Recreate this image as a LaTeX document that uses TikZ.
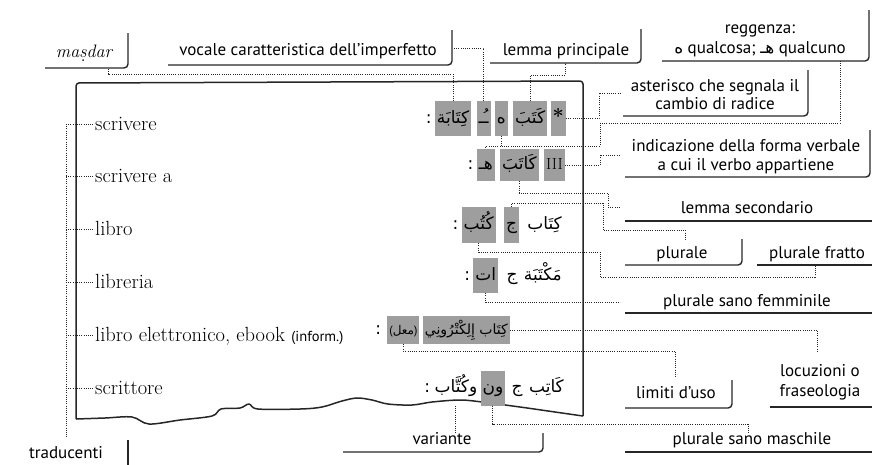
\documentclass[tikz,border=0pt]{standalone}
\usepackage{fontspec}
\newfontfamily\lblfont{PT Sans}
\newfontfamily\arfont[Script=Arabic]{DejaVu Sans}
\TeXXeTstate=1
\newcommand\ar[1]{{\arfont\beginR #1\endR}}
\newcommand\sdotbelow{\ooalign{s\cr\hidewidth\raisebox{-0.62ex}{.}\hidewidth\cr}}
\begin{document}
\begin{tikzpicture}[x=1pt,y=-1pt,
  lbl/.style={font=\lblfont\fontsize{17}{20}\selectfont, inner sep=0pt, anchor=base},
  frm/.style={line width=1.4pt, draw=black!85, rounded corners=4pt},
  dots/.style={line width=1pt, dash pattern=on 0.9pt off 1.3pt, draw=black!85},
  arbase/.style={inner xsep=2pt, inner ysep=0pt, text height=15pt, text depth=6pt, font=\arfont\fontsize{17}{20}\selectfont, anchor=east},
  hl/.style={arbase, fill=black!38},
  arw/.style={arbase},
  itw/.style={font=\fontsize{20.5}{23}\selectfont, anchor=base west, inner sep=0pt},
  boxline/.style={line width=1.5pt, draw=black!85, line join=round},
]
\useasboundingbox (0,0) rectangle (872,464);

% main box
\draw[boxline, rounded corners=3pt] (583,416) -- (583,81) -- (76,83) -- (76,419);
\draw[boxline] plot[smooth, tension=0.55] coordinates {(76,419) (105,418) (132,417) (149,424) (180,420) (212,416) (221,409) (240,408) (249,404) (258,409) (300,409) (322,407) (342,401) (357,398) (372,400) (388,404) (412,405) (432,402) (460,400) (482,402) (520,407) (555,412) (583,416)};

% Italian translations
\node[itw] (it1) at (95,130) {scrivere};
\node[itw] (it2) at (95,182) {scrivere a};
\node[itw] (it3) at (95,235) {libro};
\node[itw] (it4) at (95,288) {libreria};
\node[itw] (it5) at (95,341) {libro elettronico, ebook};
\node[itw, font=\lblfont\fontsize{14.5}{16}\selectfont] (inf) at ([xshift=6pt]it5.base east) {(inform.)};
\node[itw] (it6) at (95,394) {scrittore};
\coordinate (trT) at (66,124);
\coordinate (trB) at (66,437);
\draw[dots] (trT) -- (trB);
\foreach \n in {it1,it2,it3,it4,it5,it6}
  \draw[dots] ([yshift=5.5pt]\n.base west -| trT) -- ([xshift=-1pt,yshift=5.5pt]\n.base west);

% Row 1
\node[hl, minimum height=35pt, font=\rmfamily\bfseries\fontsize{20}{20}\selectfont] (r1s) at (566,118.5) {*};
\node[hl, minimum height=35pt] (r1a) at ([xshift=-3pt]r1s.west) {\ar{كَتَبَ}};
\node[hl, minimum height=35pt] (r1b) at ([xshift=-5pt]r1a.west) {\ar{ه}};
\node[hl, minimum height=35pt] (r1c) at ([xshift=-4pt]r1b.west) {\ar{ـُـ}};
\node[hl, minimum height=35pt] (r1d) at ([xshift=-5pt]r1c.west) {\ar{كِتَابَة}};
\node[arw, minimum height=35pt] (r1e) at ([xshift=-1pt]r1d.west) {:};
% Row 2
\node[hl, minimum height=32pt, font=\rmfamily\fontsize{16}{16}\selectfont] (r2s) at (565,165) {III};
\node[hl, minimum height=32pt] (r2a) at ([xshift=-5pt]r2s.west) {\ar{كَاتَبَ}};
\node[hl, minimum height=32pt] (r2b) at ([xshift=-5pt]r2a.west) {\ar{هـ}};
\node[arw, minimum height=32pt] (r2e) at ([xshift=-1pt]r2b.west) {:};
% Row 3
\node[arw, minimum height=36pt] (r3a) at (564,225) {\ar{كِتَاب}};
\node[hl, minimum height=36pt] (r3b) at ([xshift=-6pt]r3a.west) {\ar{ج}};
\node[hl, minimum height=36pt] (r3c) at ([xshift=-8pt]r3b.west) {\ar{كُتُب}};
\node[arw, minimum height=36pt] (r3e) at ([xshift=-1pt]r3c.west) {:};
% Row 4
\node[arw, minimum height=35pt] (r4a) at (564,275.5) {\ar{مَكْتَبَة}};
\node[arw, minimum height=35pt] (r4b) at ([xshift=-2pt]r4a.west) {\ar{ج}};
\node[hl, minimum height=35pt] (r4c) at ([xshift=-6pt]r4b.west) {\ar{ات}};
\node[arw, minimum height=35pt] (r4e) at ([xshift=-1pt]r4c.west) {:};
% Row 5
\node[hl, minimum height=28pt, font=\arfont\fontsize{14}{16}\selectfont] (r5a) at (510,330) {\ar{كِتَاب إِلِكْتْرُونِي}};
\node[hl, minimum height=28pt, font=\arfont\fontsize{12}{14}\selectfont] (r5b) at ([xshift=-3pt]r5a.west) {{\lblfont(}\ar{معل}{\lblfont)}};
\node[arw, minimum height=28pt] (r5e) at ([xshift=-4pt]r5b.west) {:};
% Row 6
\node[arw, minimum height=35pt] (r6a) at (566,388) {\ar{كَاتِب}};
\node[arw, minimum height=35pt] (r6b) at ([xshift=-2pt]r6a.west) {\ar{ج}};
\node[hl, minimum height=35pt] (r6c) at ([xshift=-4pt]r6b.west) {\ar{ون}};
\node[arw, minimum height=35pt] (r6d) at ([xshift=-1pt]r6c.west) {\ar{وكُتَّاب}};
\node[arw, minimum height=35pt] (r6e) at (r6d.west) {:};

% Labels
\node[lbl, font=\itshape\fontsize{18}{20}\selectfont] (lmasdar) at (84,57) {ma\sdotbelow dar};
\draw[frm] (45,68) -- (128,68) -- (128,33);
\node[lbl] (lvoc) at (308,55) {vocale caratteristica dell’imperfetto};
\draw[frm] (168,65) -- (452,65) -- (452,30);
\node[lbl] (llp) at (566,55) {lemma principale};
\draw[frm] (490,63) -- (641,63) -- (641,29);
\node[lbl] (lreg1) at (760,33) {reggenza:};
\node[lbl] (lreg2) at (760,53) {\ar{ه} qualcosa; \ar{هـ} qualcuno};
\draw[frm] (662,61) -- (869,61) -- (869,10);
\node[lbl] (last1) at (715,91) {asterisco che segnala il};
\node[lbl] (last2) at (715,109) {cambio di radice};
\draw[frm] (623,116) -- (808,116) -- (808,70);
\node[lbl] (lind1) at (746,151) {indicazione della forma verbale};
\node[lbl] (lind2) at (746,170) {a cui il verbo appartiene};
\draw[frm] (625,177) -- (870,177) -- (870,130);
\node[lbl] (lls) at (747,213) {lemma secondario};
\draw[frm] (625,221) -- (880,221);
\node[lbl] (lpl) at (682,258) {plurale};
\draw[frm] (625,265) -- (742,265) -- (742,239);
\node[lbl] (lpf) at (817,258) {plurale fratto};
\draw[frm] (757,265) -- (880,265);
\node[lbl] (lpsf) at (747,306) {plurale sano femminile};
\draw[frm] (625,313) -- (880,313);
\node[lbl] (lloc1) at (820,376) {locuzioni o};
\node[lbl] (lloc2) at (820,396) {fraseologia};
\draw[frm] (770,407) -- (880,407);
\node[lbl] (llim) at (676,398) {limiti d’uso};
\draw[frm] (625,408) -- (732,408) -- (732,380);
\node[lbl] (lpsm) at (752,444) {plurale sano maschile};
\draw[frm] (625,452) -- (880,452);
\node[lbl] (lvar) at (442,444) {variante};
\draw[frm] (343,452) -- (543,452) -- (543,433);
\node[lbl] (ltrad) at (66,458) {traducenti};
\draw[frm] (128,440) -- (128,470);

% Connectors
\coordinate (masdarA) at (108,68);
\draw[dots] (r1d.north) -- (r1d.north |- 0,74) -| (masdarA);
\coordinate (vocA) at (453,48);
\draw[dots] (r1c.north) |- (vocA);
\coordinate (lpA) at (565,63);
\draw[dots] (r1a.north) |- (lpA |- 0,75) -- (lpA);
\coordinate (astA) at (620,93);
\draw[dots] (r1s.east) -- (r1s.east -| 599,0) |- (astA);
\coordinate (regA) at (840,61);
\draw[dots] (regA) -- (840,123) -- (600,123) -- (600,146) -| (r2b.north);
\draw[dots] (r1b.south) -- (r1b.south |- 0,146);
\coordinate (indA) at (620,155);
\draw[dots] (r2s.east) -- (r2s.east -| 600,0) |- (indA);
\coordinate (lsA) at (620,207);
\draw[dots] (r2a.south) |- (608,193) |- (lsA);
\coordinate (plA) at (685,240);
\draw[dots] (r3b.north) |- (603,203) |- (685,230) -- (plA);
\coordinate (pfA) at (815,265);
\draw[dots] (r3c.south) |- (600,252) |- (815,277) -- (pfA);
\coordinate (psfA) at (620,302);
\draw[dots] (r4c.south) |- (psfA);
\coordinate (locA) at (817,352);
\draw[dots] (r5a.east) -| (locA);
\coordinate (limA) at (675,378);
\draw[dots] (r5b.south) |- (675,351) -- (limA);
\coordinate (varA) at (r6d.south |- 0,433);
\draw[dots] (r6d.south) -- (varA);
\coordinate (psmA) at (748,433);
\draw[dots] (r6c.south) |- (748,424) -- (psmA);
\end{tikzpicture}
\end{document}
